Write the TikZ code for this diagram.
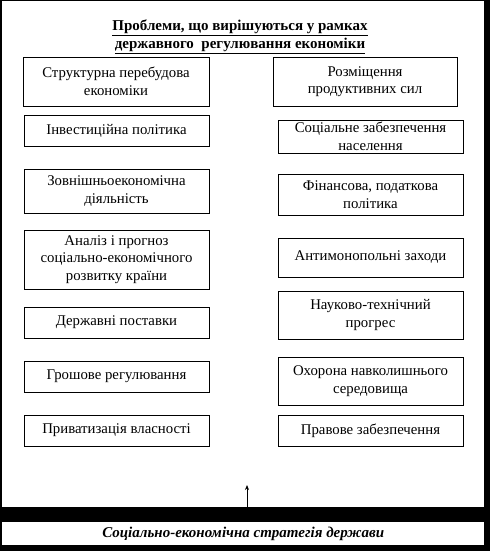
\documentclass[tikz,border=0pt]{standalone}
\usepackage{fontspec}
\setmainfont{Liberation Serif}
\usetikzlibrary{arrows.meta}
\begin{document}
\begin{tikzpicture}[x=1pt,y=-1pt,
  box/.style={draw=black,line width=0.9pt,fill=white,align=center,
    inner sep=0pt,minimum width=185pt,font=\fontsize{14.8}{17.5}\selectfont},
  panel/.style={fill=white,inner sep=0pt,anchor=north west,minimum width=482pt}
]
\useasboundingbox (0,0) rectangle (490,551);
\fill[black] (0,0) rectangle (490,551);
\node[panel,minimum height=506pt] (frame) at (2,1) {};
\node[panel,minimum height=23pt,font=\bfseries\itshape\fontsize{15}{16}\selectfont] (strat) at (2,522) {Соціально-економічна стратегія держави};
\node[font=\bfseries\fontsize{15}{18}\selectfont,align=center,inner sep=0pt] (title) at (240,36.5)
  {\underline{Проблеми, що вирішуються у рамках}\\\underline{державного\ \ регулювання економіки}};
% left column
\node[box,minimum height=49pt,minimum width=186pt] (l1) at (116,81.5) {Структурна перебудова\\економіки};
\node[box,minimum height=31pt] (l2) at (116.5,130.5) {Інвестиційна політика};
\node[box,minimum height=44pt] (l3) at (116.5,191) {Зовнішньоекономічна\\діяльність};
\node[box,minimum height=59pt] (l4) at (116.5,259.5) {Аналіз і прогноз\\соціально-економічного\\розвитку країни};
\node[box,minimum height=31pt] (l5) at (116.5,322.5) {Державні поставки};
\node[box,minimum height=31pt] (l6) at (116.5,376.5) {Грошове регулювання};
\node[box,minimum height=31pt] (l7) at (116.5,430.5) {Приватизація власності};
% right column
\node[box,minimum height=49pt,minimum width=184pt] (r1) at (365,81.5) {Розміщення\\продуктивних сил};
\node[box,minimum height=33pt] (r2) at (370.5,136.5) {Соціальне забезпечення\\населення};
\node[box,minimum height=41pt] (r3) at (370.5,194.5) {Фінансова, податкова\\політика};
\node[box,minimum height=39pt] (r4) at (370.5,257.5) {Антимонопольні заходи};
\node[box,minimum height=48pt] (r5) at (370.5,315) {Науково-технічний\\прогрес};
\node[box,minimum height=48pt] (r6) at (370.5,381) {Охорона навколишнього\\середовища};
\node[box,minimum height=31pt] (r7) at (370.5,430.5) {Правове забезпечення};
% arrow
\coordinate (arrtip) at (247,485);
\draw[-{Stealth[length=5pt,width=4pt]},line width=0.8pt] (frame.south -| arrtip) -- (arrtip);
\end{tikzpicture}
\end{document}
